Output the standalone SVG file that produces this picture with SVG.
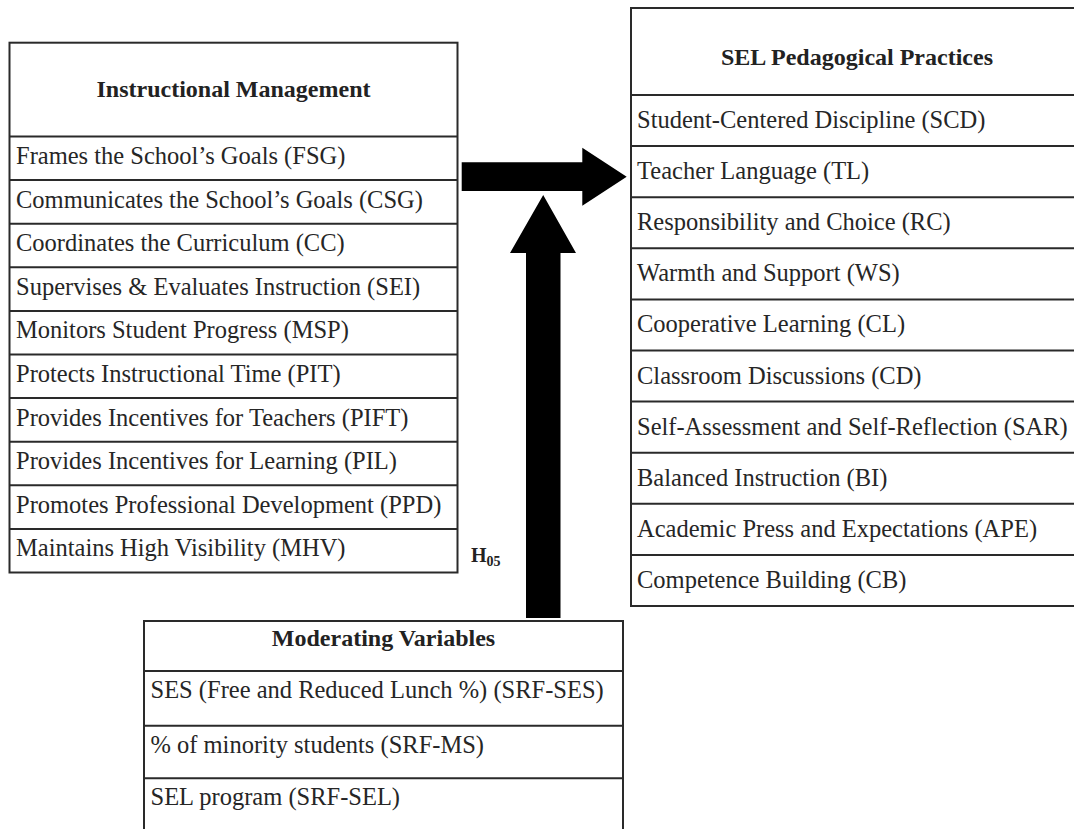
<svg xmlns="http://www.w3.org/2000/svg" width="1074" height="829" viewBox="0 0 1074 829">
<style>
.box{fill:#fff;stroke:#2a2a2a;stroke-width:2}
.ln{stroke:#2a2a2a;stroke-width:2}
.t{font-family:"Liberation Serif","Times New Roman",serif;font-size:24.5px;fill:#262626}
.h{font-family:"Liberation Serif","Times New Roman",serif;font-size:24px;font-weight:bold;fill:#222;text-anchor:middle}
.arrow{fill:#000}
</style>
<rect width="1074" height="829" fill="#fff"/>
<g id="instructional-management">
<rect class="box" x="9.5" y="42.7" width="448" height="529.8"/>
<line class="ln" x1="9.5" y1="136.5" x2="457.5" y2="136.5"/>
<line class="ln" x1="9.5" y1="180.1" x2="457.5" y2="180.1"/>
<line class="ln" x1="9.5" y1="223.7" x2="457.5" y2="223.7"/>
<line class="ln" x1="9.5" y1="267.3" x2="457.5" y2="267.3"/>
<line class="ln" x1="9.5" y1="310.9" x2="457.5" y2="310.9"/>
<line class="ln" x1="9.5" y1="354.5" x2="457.5" y2="354.5"/>
<line class="ln" x1="9.5" y1="398.1" x2="457.5" y2="398.1"/>
<line class="ln" x1="9.5" y1="441.7" x2="457.5" y2="441.7"/>
<line class="ln" x1="9.5" y1="485.3" x2="457.5" y2="485.3"/>
<line class="ln" x1="9.5" y1="528.9" x2="457.5" y2="528.9"/>
<text class="h" x="233.5" y="96.7">Instructional Management</text>
<text class="t" x="16" y="164">Frames the School’s Goals (FSG)</text>
<text class="t" x="16" y="207.6">Communicates the School’s Goals (CSG)</text>
<text class="t" x="16" y="251.2">Coordinates the Curriculum (CC)</text>
<text class="t" x="16" y="294.8">Supervises &amp; Evaluates Instruction (SEI)</text>
<text class="t" x="16" y="338.4">Monitors Student Progress (MSP)</text>
<text class="t" x="16" y="382">Protects Instructional Time (PIT)</text>
<text class="t" x="16" y="425.6">Provides Incentives for Teachers (PIFT)</text>
<text class="t" x="16" y="469.2">Provides Incentives for Learning (PIL)</text>
<text class="t" x="16" y="512.8">Promotes Professional Development (PPD)</text>
<text class="t" x="16" y="556.4">Maintains High Visibility (MHV)</text>
</g>
<g id="sel-pedagogical-practices">
<rect class="box" x="631" y="8" width="460" height="598"/>
<line class="ln" x1="631" y1="95" x2="1091" y2="95"/>
<line class="ln" x1="631" y1="146.1" x2="1091" y2="146.1"/>
<line class="ln" x1="631" y1="197.2" x2="1091" y2="197.2"/>
<line class="ln" x1="631" y1="248.3" x2="1091" y2="248.3"/>
<line class="ln" x1="631" y1="299.4" x2="1091" y2="299.4"/>
<line class="ln" x1="631" y1="350.5" x2="1091" y2="350.5"/>
<line class="ln" x1="631" y1="401.6" x2="1091" y2="401.6"/>
<line class="ln" x1="631" y1="452.7" x2="1091" y2="452.7"/>
<line class="ln" x1="631" y1="503.8" x2="1091" y2="503.8"/>
<line class="ln" x1="631" y1="554.9" x2="1091" y2="554.9"/>
<text class="h" x="857" y="65">SEL Pedagogical Practices</text>
<text class="t" x="637" y="128">Student-Centered Discipline (SCD)</text>
<text class="t" x="637" y="179.1">Teacher Language (TL)</text>
<text class="t" x="637" y="230.2">Responsibility and Choice (RC)</text>
<text class="t" x="637" y="281.3">Warmth and Support (WS)</text>
<text class="t" x="637" y="332.4">Cooperative Learning (CL)</text>
<text class="t" x="637" y="383.5">Classroom Discussions (CD)</text>
<text class="t" x="637" y="434.6">Self-Assessment and Self-Reflection (SAR)</text>
<text class="t" x="637" y="485.7">Balanced Instruction (BI)</text>
<text class="t" x="637" y="536.8">Academic Press and Expectations (APE)</text>
<text class="t" x="637" y="587.9">Competence Building (CB)</text>
</g>
<g id="moderating-variables">
<rect class="box" x="144" y="621" width="479" height="220"/>
<line class="ln" x1="144" y1="671" x2="623" y2="671"/>
<line class="ln" x1="144" y1="725.7" x2="623" y2="725.7"/>
<line class="ln" x1="144" y1="778.3" x2="623" y2="778.3"/>
<text class="h" x="383.5" y="645.7">Moderating Variables</text>
<text class="t" x="150.5" y="698.3">SES (Free and Reduced Lunch %) (SRF-SES)</text>
<text class="t" x="150.5" y="753.3">% of minority students (SRF-MS)</text>
<text class="t" x="150.5" y="805">SEL program (SRF-SEL)</text>
</g>
<g id="connectors">
<polygon class="arrow" points="461.7,162.3 582.3,162.3 582.3,147.7 626.7,176.7 582.3,205.7 582.3,191 461.7,191"/>
<polygon class="arrow" points="526,618 526,253 510,253 543.2,195 576,253 560.5,253 560.5,618"/>
<text x="471" y="562" font-family="Liberation Serif, Times New Roman, serif" font-weight="bold" font-size="20" fill="#222">H<tspan font-size="14" dy="4">05</tspan></text>
</g>
</svg>
